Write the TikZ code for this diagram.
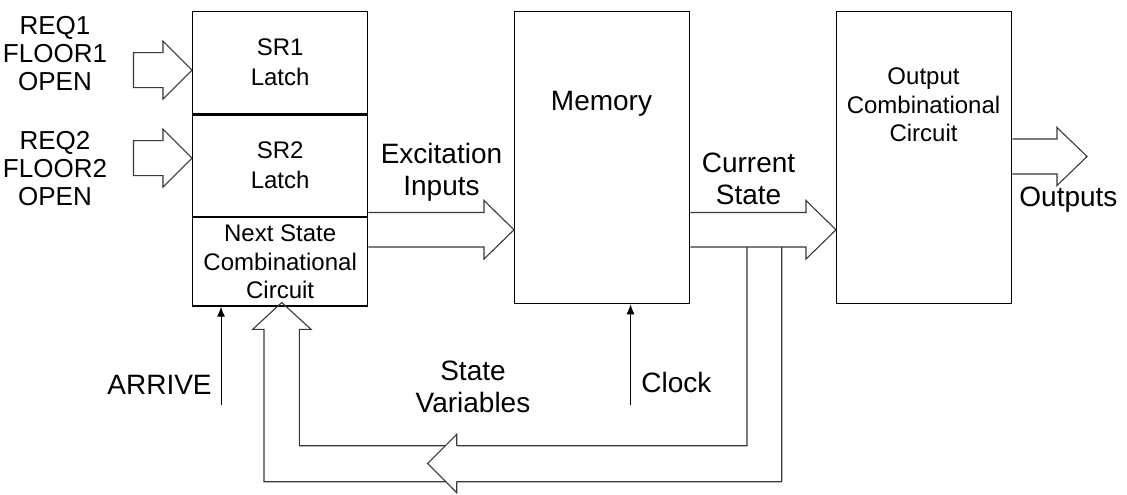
\documentclass[tikz,border=0pt]{standalone}
\usepackage{fontspec}
\setmainfont{Liberation Sans}
\usepackage{tikz}
\usetikzlibrary{arrows.meta, positioning}

\begin{document}
\begin{tikzpicture}[x=0.5pt, y=-0.5pt,
    blk/.style={rectangle, draw=black, line width=0.65pt, fill=white, minimum width=87.5pt, text centered, align=center, inner sep=1pt, font=\fontsize{12}{15}\selectfont},
    boxtxt/.style={align=center, inner sep=0pt, font=\fontsize{12}{14.2}\selectfont},
    lbl/.style={align=center, inner sep=0pt, font=\fontsize{14}{16}\selectfont},
    inp/.style={align=center, inner sep=0pt, font=\fontsize{13}{14}\selectfont},
    fat/.style={draw=black!78, line width=0.55pt, line join=miter},
    sig/.style={-{Latex[length=5pt,width=4pt]}, line width=0.5pt, draw=black}
]
\useasboundingbox (0,0) rectangle (1127,494);

% Left column: latches and next state logic
\node[blk, minimum height=51pt, anchor=north west] (sr1) at (192,11) {SR1\\Latch};
\node[blk, minimum height=50.65pt, below=0pt of sr1] (sr2) {SR2\\Latch};
\node[blk, minimum height=44.25pt, below=0pt of sr2, font=\fontsize{12}{14.2}\selectfont] (nsc) {Next State\\Combinational\\Circuit};

% Memory and output logic
\node[blk, minimum height=146pt, anchor=north west] (mem) at (514,11) {};
\node[lbl, anchor=base] (memtxt) at (601.5,110) {Memory};
\node[blk, minimum height=146pt, anchor=north west] (out) at (836,11) {};
\node[boxtxt] (outtxt) at (923.5,105) {Output\\Combinational\\Circuit};

% Inputs
\node[inp] (in1txt) at (55,53.5) {REQ1\\FLOOR1\\OPEN};
\node[inp] (in2txt) at (55,169) {REQ2\\FLOOR2\\OPEN};
\draw[fat] (sr1.west) ++(0,7.5) -- ++(-29,-29) -- ++(0,11.5) -- ++(-29.5,0) -- ++(0,35) -- ++(29.5,0) -- ++(0,11.5) -- cycle;
\draw[fat] (sr2.west) ++(0,-7.5) -- ++(-29,-29) -- ++(0,11.5) -- ++(-29.5,0) -- ++(0,35) -- ++(29.5,0) -- ++(0,11.5) -- cycle;

% Wide buses
\draw[fat] (nsc.east |- 0,212.5) -- (484,212.5) -- (484,200.5) -- (514,229.8) -- (484,259) -- (484,247) -- (nsc.east |- 0,247);
\draw[fat] (mem.east |- 0,212.5) -- (806,212.5) -- (806,200.5) -- (836,229.8) -- (806,259) -- (806,247) -- (mem.east |- 0,247);
\draw[fat] (out.east |- 0,139) -- (1057,139) -- (1057,127.5) -- (1087,156.5) -- (1057,185.5) -- (1057,174) -- (out.east |- 0,174);

% Feedback bus
\draw[fat] (747,247) |- (299.3,445.7) |- (311,329.3) -- (281.7,302.5) -- (252.7,329.3) -- (264,329.3) |- (781.7,481.7) -- (781.7,247);
\fill[white] (456.7,434.3) -- (427.7,463.5) -- (456.7,492.7) -- cycle;
\draw[fat] (456.7,445.7) -- (456.7,434.3) -- (427.7,463.5) -- (456.7,492.7) -- (456.7,481.7);

% Labels
\node[lbl] (exc) at (441.5,172) {Excitation\\Inputs};
\node[lbl] (cur) at (748.5,179) {Current\\State};
\node[lbl] (var) at (473,386.5) {State\\Variables};
\node[lbl, anchor=base west] (outputs) at (1019,206) {Outputs};
\node[lbl, anchor=base west] (arrive) at (107,394) {ARRIVE};
\node[lbl, anchor=base west] (clock) at (641,392) {Clock};

% Single lines
\coordinate (arrtail) at (221,405);
\coordinate (clktail) at (630.5,405);
\draw[sig] (arrtail) -- (arrtail |- nsc.south);
\draw[sig] (clktail) -- (clktail |- mem.south);

\end{tikzpicture}
\end{document}
